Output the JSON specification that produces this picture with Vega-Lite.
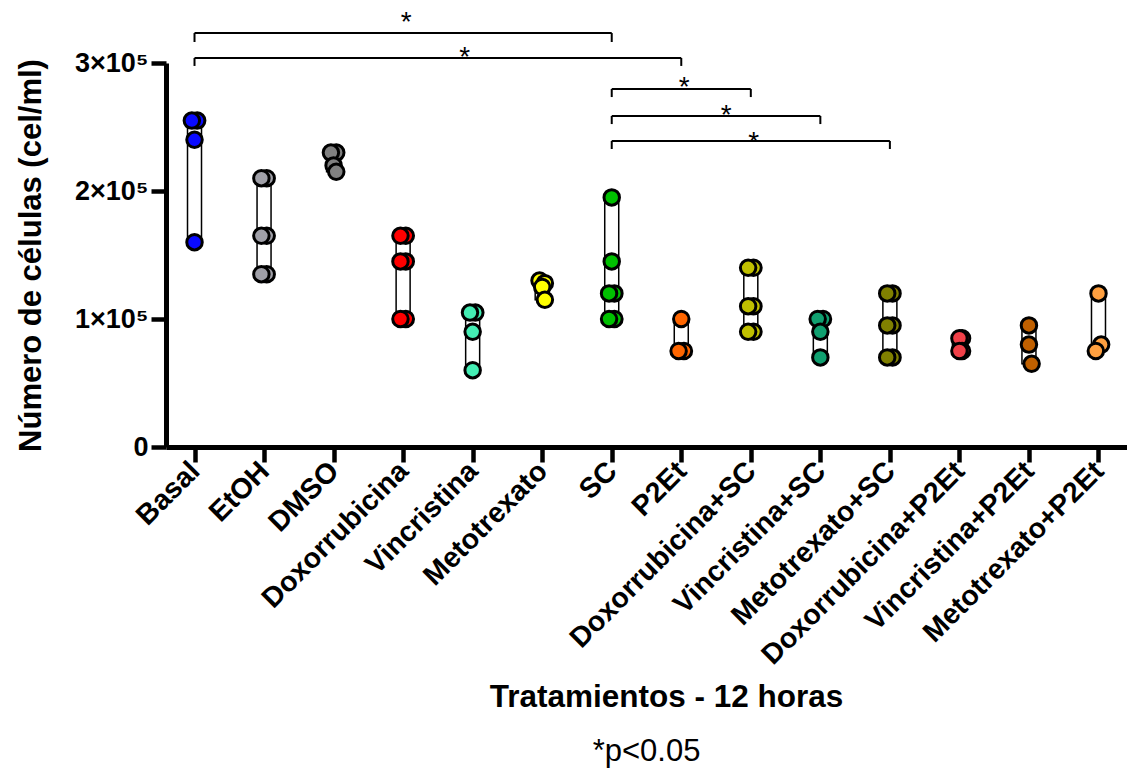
{
  "$schema": "https://vega.github.io/schema/vega-lite/v6.json",
  "autosize": "none",
  "width": 961,
  "height": 384,
  "padding": {"left": 166, "top": 63, "right": 0, "bottom": 324},
  "background": "white",
  "config": {
    "font": "Liberation Sans",
    "view": {"stroke": null},
    "axis": {"grid": false, "domainColor": "black", "tickColor": "black", "labelColor": "black", "titleColor": "black"}
  },
  "title": {"text": "*p<0.05", "orient": "bottom", "fontSize": 31, "fontWeight": "normal", "font": "Liberation Sans", "color": "black", "offset": 24, "anchor": "middle"},
  "datasets": {
    "cells": [
      {"t": "Basal", "v": 255000, "r": "b"}, {"t": "Basal", "v": 255000, "r": "a"}, {"t": "Basal", "v": 240000, "r": "c"}, {"t": "Basal", "v": 160000, "r": "c"},
      {"t": "EtOH", "v": 210000, "r": "b"}, {"t": "EtOH", "v": 210000, "r": "a"}, {"t": "EtOH", "v": 165000, "r": "b"}, {"t": "EtOH", "v": 165000, "r": "a"}, {"t": "EtOH", "v": 135000, "r": "b"}, {"t": "EtOH", "v": 135000, "r": "a"},
      {"t": "DMSO", "v": 230000, "r": "b"}, {"t": "DMSO", "v": 230000, "r": "a"}, {"t": "DMSO", "v": 220000, "r": "c"}, {"t": "DMSO", "v": 215000, "r": "b"},
      {"t": "Doxorrubicina", "v": 165000, "r": "b"}, {"t": "Doxorrubicina", "v": 165000, "r": "a"}, {"t": "Doxorrubicina", "v": 145000, "r": "b"}, {"t": "Doxorrubicina", "v": 145000, "r": "a"}, {"t": "Doxorrubicina", "v": 100000, "r": "b"}, {"t": "Doxorrubicina", "v": 100000, "r": "a"},
      {"t": "Vincristina", "v": 105000, "r": "b"}, {"t": "Vincristina", "v": 105000, "r": "a"}, {"t": "Vincristina", "v": 90000, "r": "c"}, {"t": "Vincristina", "v": 60000, "r": "c"},
      {"t": "Metotrexato", "v": 130000, "r": "a"}, {"t": "Metotrexato", "v": 128000, "r": "b"}, {"t": "Metotrexato", "v": 125000, "r": "c"}, {"t": "Metotrexato", "v": 115000, "r": "b"},
      {"t": "SC", "v": 195000, "r": "c"}, {"t": "SC", "v": 145000, "r": "c"}, {"t": "SC", "v": 120000, "r": "b"}, {"t": "SC", "v": 120000, "r": "a"}, {"t": "SC", "v": 100000, "r": "b"}, {"t": "SC", "v": 100000, "r": "a"},
      {"t": "P2Et", "v": 100000, "r": "c"}, {"t": "P2Et", "v": 75000, "r": "b"}, {"t": "P2Et", "v": 75000, "r": "a"},
      {"t": "Doxorrubicina+SC", "v": 140000, "r": "b"}, {"t": "Doxorrubicina+SC", "v": 140000, "r": "a"}, {"t": "Doxorrubicina+SC", "v": 110000, "r": "b"}, {"t": "Doxorrubicina+SC", "v": 110000, "r": "a"}, {"t": "Doxorrubicina+SC", "v": 90000, "r": "b"}, {"t": "Doxorrubicina+SC", "v": 90000, "r": "a"},
      {"t": "Vincristina+SC", "v": 100000, "r": "b"}, {"t": "Vincristina+SC", "v": 100000, "r": "a"}, {"t": "Vincristina+SC", "v": 90000, "r": "c"}, {"t": "Vincristina+SC", "v": 70000, "r": "c"},
      {"t": "Metotrexato+SC", "v": 120000, "r": "b"}, {"t": "Metotrexato+SC", "v": 120000, "r": "a"}, {"t": "Metotrexato+SC", "v": 95000, "r": "b"}, {"t": "Metotrexato+SC", "v": 95000, "r": "a"}, {"t": "Metotrexato+SC", "v": 70000, "r": "b"}, {"t": "Metotrexato+SC", "v": 70000, "r": "a"},
      {"t": "Doxorrubicina+P2Et", "v": 85000, "r": "b"}, {"t": "Doxorrubicina+P2Et", "v": 85000, "r": "c"}, {"t": "Doxorrubicina+P2Et", "v": 75000, "r": "b"}, {"t": "Doxorrubicina+P2Et", "v": 75000, "r": "c"},
      {"t": "Vincristina+P2Et", "v": 95000, "r": "c"}, {"t": "Vincristina+P2Et", "v": 80000, "r": "c"}, {"t": "Vincristina+P2Et", "v": 65000, "r": "b"},
      {"t": "Metotrexato+P2Et", "v": 120000, "r": "c"}, {"t": "Metotrexato+P2Et", "v": 80000, "r": "b"}, {"t": "Metotrexato+P2Et", "v": 75000, "r": "a"}
    ],
    "brackets": [
      {"from": "Basal", "to": "SC", "y": 323400, "low": 316400},
      {"from": "Basal", "to": "P2Et", "y": 303900, "low": 297700},
      {"from": "SC", "to": "Doxorrubicina+SC", "y": 279700, "low": 273400},
      {"from": "SC", "to": "Vincristina+SC", "y": 258600, "low": 252300},
      {"from": "SC", "to": "Metotrexato+SC", "y": 239100, "low": 232800}
    ],
    "stars": [
      {"at": "Doxorrubicina", "y": 337500, "s": "*"},
      {"at": "P2Et", "y": 286700, "s": "*"},
      {"at": "Doxorrubicina+SC", "y": 243700, "s": "*"}
    ],
    "starB2": [{"at": "Vincristina", "y": 310200, "s": "*"}],
    "starB4": [{"at": "P2Et", "y": 264800, "s": "*"}]
  },
  "encoding": {
    "x": {
      "field": "t", "type": "nominal",
      "sort": ["Basal", "EtOH", "DMSO", "Doxorrubicina", "Vincristina", "Metotrexato", "SC", "P2Et", "Doxorrubicina+SC", "Vincristina+SC", "Metotrexato+SC", "Doxorrubicina+P2Et", "Vincristina+P2Et", "Metotrexato+P2Et"],
      "scale": {"type": "point", "padding": 0.41, "domain": ["Basal", "EtOH", "DMSO", "Doxorrubicina", "Vincristina", "Metotrexato", "SC", "P2Et", "Doxorrubicina+SC", "Vincristina+SC", "Metotrexato+SC", "Doxorrubicina+P2Et", "Vincristina+P2Et", "Metotrexato+P2Et"]},
      "axis": {
        "title": "Tratamientos - 12 horas", "titleFontSize": 31.5, "titleFontWeight": "bold", "titlePadding": 34, "titleX": 500,
        "labelAngle": -45, "labelFontSize": 28.5, "labelFontWeight": "bold", "labelPadding": 4, "labelAlign": "right", "labelBaseline": "middle", "labelLimit": 0,
        "domainWidth": 5, "tickWidth": 4.5, "tickSize": 15
      }
    }
  },
  "layer": [
    {
      "data": {"name": "cells"},
      "mark": {"type": "bar", "width": 14, "fill": "white", "stroke": "black", "strokeWidth": 1.5},
      "encoding": {
        "y": {"aggregate": "min", "field": "v", "type": "quantitative"},
        "y2": {"aggregate": "max", "field": "v"}
      }
    },
    {
      "data": {"name": "cells"},
      "mark": {"type": "point", "shape": "circle", "filled": true, "size": 240, "stroke": "black", "strokeWidth": 3, "opacity": 1},
      "encoding": {
        "xOffset": {"field": "r", "type": "nominal", "scale": {"type": "point", "domain": ["a", "c", "b"], "range": [-4, 4]}},
        "y": {
          "field": "v", "type": "quantitative",
          "scale": {"domain": [0, 300000], "nice": false},
          "axis": {
            "title": "Número de células (cel/ml)", "titleFontSize": 31, "titleFontWeight": "bold", "titlePadding": 27,
            "values": [0, 100000, 200000, 300000],
            "labelExpr": "datum.value == 0 ? '0' : format(datum.value / 100000, 'd') + '×10⁵'",
            "labelFontSize": 27, "labelFontWeight": "bold", "labelPadding": 3,
            "domainWidth": 5, "tickWidth": 4.5, "tickSize": 15
          }
        },
        "fill": {
          "field": "t", "type": "nominal", "legend": null,
          "scale": {
            "domain": ["Basal", "EtOH", "DMSO", "Doxorrubicina", "Vincristina", "Metotrexato", "SC", "P2Et", "Doxorrubicina+SC", "Vincristina+SC", "Metotrexato+SC", "Doxorrubicina+P2Et", "Vincristina+P2Et", "Metotrexato+P2Et"],
            "range": ["#0a0aff", "#a0a0a8", "#808080", "#ff0000", "#44eeb4", "#ffff00", "#00c000", "#ff6600", "#c0c000", "#10a070", "#808000", "#f04048", "#c06000", "#ffa040"]
          }
        }
      }
    },
    {
      "data": {"name": "brackets"},
      "mark": {"type": "rule", "color": "black", "strokeWidth": 2, "clip": false},
      "encoding": {
        "x": {"field": "from", "type": "nominal"},
        "x2": {"field": "to"},
        "y": {"field": "y", "type": "quantitative"}
      }
    },
    {
      "data": {"name": "brackets"},
      "mark": {"type": "rule", "color": "black", "strokeWidth": 2, "clip": false},
      "encoding": {
        "x": {"field": "from", "type": "nominal"},
        "y": {"field": "y", "type": "quantitative"},
        "y2": {"field": "low"}
      }
    },
    {
      "data": {"name": "brackets"},
      "mark": {"type": "rule", "color": "black", "strokeWidth": 2, "clip": false},
      "encoding": {
        "x": {"field": "to", "type": "nominal"},
        "y": {"field": "y", "type": "quantitative"},
        "y2": {"field": "low"}
      }
    },
    {
      "data": {"name": "stars"},
      "mark": {"type": "text", "fontSize": 28, "color": "black", "baseline": "alphabetic", "dy": 16, "dx": 3, "clip": false},
      "encoding": {
        "x": {"field": "at", "type": "nominal"},
        "y": {"field": "y", "type": "quantitative"},
        "text": {"field": "s"}
      }
    },
    {
      "data": {"name": "starB2"},
      "mark": {"type": "text", "fontSize": 28, "color": "black", "baseline": "alphabetic", "dy": 16, "dx": -8, "clip": false},
      "encoding": {
        "x": {"field": "at", "type": "nominal"},
        "y": {"field": "y", "type": "quantitative"},
        "text": {"field": "s"}
      }
    },
    {
      "data": {"name": "starB4"},
      "mark": {"type": "text", "fontSize": 28, "color": "black", "baseline": "alphabetic", "dy": 16, "dx": 45, "clip": false},
      "encoding": {
        "x": {"field": "at", "type": "nominal"},
        "y": {"field": "y", "type": "quantitative"},
        "text": {"field": "s"}
      }
    }
  ]
}
